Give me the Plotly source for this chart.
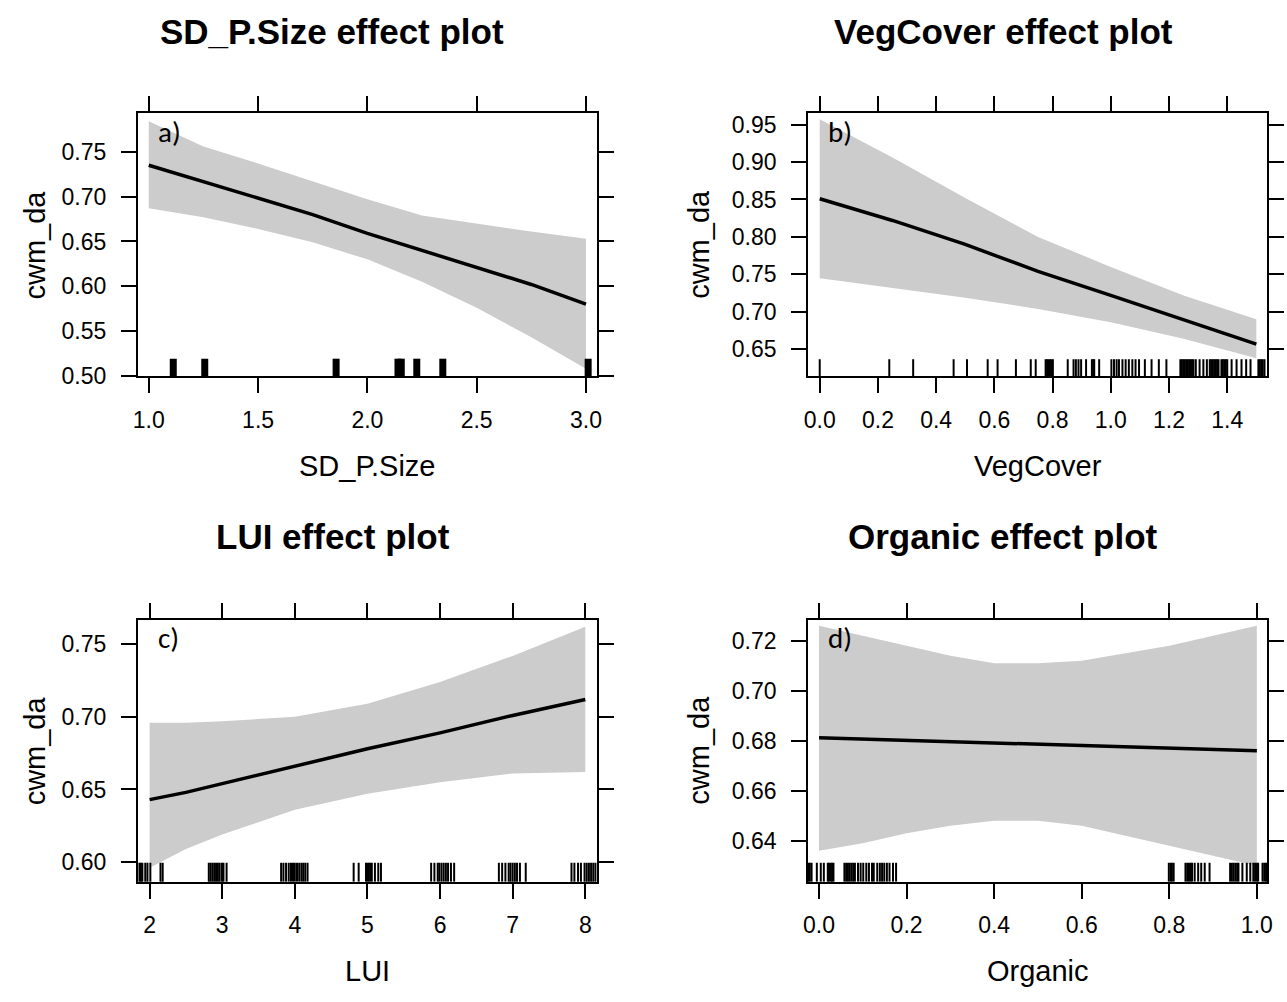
import plotly.graph_objects as go

# ---------------- data ----------------
# a) SD_P.Size
sd_x = [1.0, 1.25, 1.5, 1.75, 2.0, 2.25, 2.5, 2.75, 3.0]
sd_fit = [0.735, 0.717, 0.699, 0.680, 0.659, 0.640, 0.621, 0.602, 0.580]
sd_upper = [0.784, 0.756, 0.737, 0.717, 0.697, 0.679, 0.670, 0.661, 0.653]
sd_lower = [0.687, 0.677, 0.664, 0.649, 0.630, 0.605, 0.576, 0.543, 0.508]
sd_rug = [1.112, 1.256, 1.857, 2.14, 2.155, 2.226, 2.345, 3.01]

# b) VegCover
veg_x = [0.0, 0.25, 0.5, 0.75, 1.0, 1.25, 1.5]
veg_fit = [0.851, 0.822, 0.790, 0.754, 0.722, 0.690, 0.657]
veg_upper = [0.957, 0.906, 0.852, 0.800, 0.760, 0.722, 0.690]
veg_lower = [0.745, 0.732, 0.719, 0.704, 0.686, 0.664, 0.638]
veg_rug = [0.0, 0.239, 0.321, 0.46, 0.506, 0.577, 0.611, 0.674, 0.725, 0.742,
           0.776, 0.781, 0.786, 0.791, 0.796, 0.801, 0.852, 0.872, 0.88, 0.889,
           0.898, 0.915, 0.935, 0.94, 0.943, 0.96, 1.002, 1.011, 1.02, 1.028,
           1.04, 1.051, 1.062, 1.074, 1.085, 1.097, 1.117, 1.14, 1.165, 1.191,
           1.239, 1.244, 1.249, 1.254, 1.259, 1.264, 1.269, 1.274, 1.279, 1.284,
           1.292, 1.305, 1.318, 1.33, 1.34, 1.345, 1.35, 1.355, 1.36, 1.365,
           1.37, 1.38, 1.385, 1.39, 1.395, 1.40, 1.415, 1.432, 1.449, 1.465,
           1.48, 1.507, 1.512, 1.517, 1.522, 1.528]

# c) LUI
lui_x = [2, 2.5, 3, 4, 5, 6, 7, 8]
lui_fit = [0.643, 0.648, 0.654, 0.666, 0.678, 0.689, 0.701, 0.712]
lui_upper = [0.696, 0.696, 0.697, 0.700, 0.709, 0.724, 0.742, 0.762]
lui_lower = [0.596, 0.609, 0.619, 0.636, 0.647, 0.655, 0.661, 0.662]
lui_rug = [1.86, 1.88, 1.90, 1.94, 1.97, 2.01, 2.15, 2.18,
           2.815, 2.84, 2.865, 2.89, 2.915, 2.94, 2.965, 2.997, 3.017, 3.06,
           3.811, 3.843, 3.879, 3.916, 3.947, 3.975, 4.0, 4.03, 4.06, 4.09, 4.115, 4.143, 4.175,
           4.81, 4.879, 4.98, 5.0, 5.02, 5.04, 5.06, 5.103, 5.149, 5.186,
           5.877, 5.922, 5.968, 5.99, 6.02, 6.05, 6.08, 6.11, 6.15, 6.194,
           6.81, 6.855, 6.9, 6.945, 6.97, 7.0, 7.03, 7.06, 7.10, 7.18,
           7.81, 7.85, 7.90, 7.94, 7.99, 8.02, 8.05, 8.08, 8.11, 8.14]

# d) Organic
org_x = [0.0, 0.1, 0.2, 0.3, 0.4, 0.5, 0.6, 0.7, 0.8, 0.9, 1.0]
org_fit = [0.6812, 0.6807, 0.6803, 0.6798, 0.6792, 0.6785, 0.6782, 0.6776, 0.6770, 0.6766, 0.6760]
org_upper = [0.726, 0.722, 0.718, 0.714, 0.711, 0.711, 0.712, 0.715, 0.718, 0.722, 0.726]
org_lower = [0.636, 0.639, 0.643, 0.646, 0.648, 0.648, 0.646, 0.642, 0.638, 0.634, 0.630]
org_rug = [-0.024, -0.021, -0.017, -0.005, 0.004, 0.011, 0.020, 0.023, 0.027, 0.030, 0.033,
           0.058, 0.062, 0.066, 0.070, 0.074, 0.078, 0.082, 0.089, 0.095, 0.101, 0.108,
           0.114, 0.121, 0.125, 0.133, 0.139, 0.144, 0.149, 0.155, 0.161, 0.169, 0.176,
           0.799, 0.803, 0.806, 0.810, 0.837, 0.841, 0.845, 0.849, 0.852, 0.858, 0.866,
           0.873, 0.881, 0.892, 0.939, 0.943, 0.947, 0.951, 0.955, 0.958, 0.967, 0.977,
           0.985, 0.992, 0.996, 1.0, 1.003, 1.013, 1.017, 1.021, 1.025]

panels = [
    dict(name="SD_P.Size", x=sd_x, fit=sd_fit, up=sd_upper, lo=sd_lower, rug=sd_rug,
         xr=[0.95, 3.05], yr=[0.4995, 0.793], xt=[1.0, 1.5, 2.0, 2.5, 3.0], xf=".1f",
         yt=[0.50, 0.55, 0.60, 0.65, 0.70, 0.75], yf=".2f", tag="a)", rugw=7, rugh=0.067),
    dict(name="VegCover", x=veg_x, fit=veg_fit, up=veg_upper, lo=veg_lower, rug=veg_rug,
         xr=[-0.04, 1.537], yr=[0.614, 0.965], xt=[0.0, 0.2, 0.4, 0.6, 0.8, 1.0, 1.2, 1.4], xf=".1f",
         yt=[0.65, 0.70, 0.75, 0.80, 0.85, 0.90, 0.95], yf=".2f", tag="b)", rugw=2, rugh=0.065),
    dict(name="LUI", x=lui_x, fit=lui_fit, up=lui_upper, lo=lui_lower, rug=lui_rug,
         xr=[1.838, 8.16], yr=[0.5865, 0.767], xt=[2, 3, 4, 5, 6, 7, 8], xf="d",
         yt=[0.60, 0.65, 0.70, 0.75], yf=".2f", tag="c)", rugw=2, rugh=0.072),
    dict(name="Organic", x=org_x, fit=org_fit, up=org_upper, lo=org_lower, rug=org_rug,
         xr=[-0.025, 1.0235], yr=[0.6236, 0.7285], xt=[0.0, 0.2, 0.4, 0.6, 0.8, 1.0], xf=".1f",
         yt=[0.64, 0.66, 0.68, 0.70, 0.72], yf=".2f", tag="d)", rugw=2, rugh=0.072),
]

# ---------------- layout geometry (pixels) ----------------
W, H = 1287, 1002
frames = [  # left, right, top, bottom
    (134, 597, 113, 380),
    (810, 1273, 113, 380),
    (134, 597, 627, 893),
    (810, 1273, 627, 893),
]
title_pos = [(330, 30), (1007, 30), (331, 543), (1007, 543)]
ytitle_x = [30, 700, 30, 700]
xtitle_y = [471, 471, 984, 984]

FONT = "Liberation Sans, Arial, sans-serif"
fig = go.Figure()
layout = dict(width=W, height=H, margin=dict(l=0, r=0, t=0, b=0),
              paper_bgcolor="white", plot_bgcolor="white", showlegend=False)
annotations = []
shapes = []

for i, p in enumerate(panels):
    n = "" if i == 0 else str(i + 1)
    xa, ya = "x" + n, "y" + n
    l, r, t, b = frames[i]
    # confidence band
    fig.add_trace(go.Scatter(x=p["x"], y=p["up"], xaxis=xa, yaxis=ya, mode="lines",
                             line=dict(width=0, color="#cccccc"), hoverinfo="skip"))
    fig.add_trace(go.Scatter(x=p["x"], y=p["lo"], xaxis=xa, yaxis=ya, mode="lines",
                             line=dict(width=0, color="#cccccc"), fill="tonexty",
                             fillcolor="#cccccc", hoverinfo="skip"))
    # fitted line
    fig.add_trace(go.Scatter(x=p["x"], y=p["fit"], xaxis=xa, yaxis=ya, mode="lines",
                             line=dict(width=3.5, color="black")))
    # rug
    for v in p["rug"]:
        shapes.append(dict(type="line", xref=xa, yref=ya + " domain", x0=v, x1=v,
                           y0=0, y1=p["rugh"], line=dict(color="black", width=p["rugw"])))
    axcommon = dict(showgrid=False, zeroline=False, showline=True, linecolor="black",
                    linewidth=2, mirror="ticks", ticks="outside", ticklen=15, tickwidth=2,
                    tickcolor="black", tickfont=dict(family=FONT, size=23, color="black"))
    layout["xaxis" + n] = dict(domain=[l / W, r / W], anchor=ya, range=p["xr"],
                               tickvals=p["xt"], tickformat=p["xf"], ticklabelstandoff=7,
                               **axcommon)
    layout["yaxis" + n] = dict(domain=[1 - b / H, 1 - t / H], anchor=xa, range=p["yr"],
                               tickvals=p["yt"], tickformat=p["yf"], ticklabelstandoff=10,
                               **axcommon)
    # panel tag
    annotations.append(dict(text=p["tag"], xref=xa + " domain", yref=ya + " domain",
                            x=0.04, y=0.93, xanchor="left", yanchor="middle", showarrow=False,
                            font=dict(family="Carlito, Lato, sans-serif", size=29, color="black")))
    # main title
    tx, ty = title_pos[i]
    annotations.append(dict(text="<b>%s effect plot</b>" % p["name"], xref="paper", yref="paper",
                            x=tx / W, y=1 - ty / H, xanchor="center", yanchor="middle",
                            showarrow=False, font=dict(family=FONT, size=35, color="black")))
    # x title
    annotations.append(dict(text=p["name"], xref="paper", yref="paper",
                            x=(l + r) / 2 / W, y=1 - xtitle_y[i] / H, xanchor="center",
                            yanchor="middle", showarrow=False,
                            font=dict(family=FONT, size=29, color="black")))
    # y title
    annotations.append(dict(text="cwm_da", xref="paper", yref="paper",
                            x=ytitle_x[i] / W, y=1 - (t + b) / 2 / H, xanchor="center",
                            yanchor="middle", textangle=-90, showarrow=False,
                            font=dict(family=FONT, size=29, color="black")))

layout["annotations"] = annotations
layout["shapes"] = shapes
fig.update_layout(**layout)
fig.write_html("out.html")
